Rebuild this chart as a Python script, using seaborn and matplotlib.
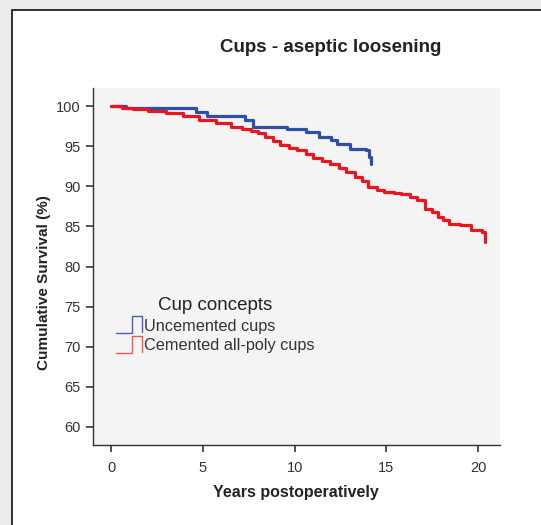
import numpy as np
import pandas as pd
import seaborn as sns
import matplotlib
matplotlib.use("Agg")
import matplotlib.pyplot as plt
from matplotlib.lines import Line2D
from matplotlib.patches import Rectangle
from matplotlib.legend_handler import HandlerBase

# survival curves (years, cumulative survival %)
uncem_t = [0, 0.8, 4.6, 5.2, 7.3, 7.7, 9.6, 10.6, 11.3, 12.0, 12.3, 13.0, 13.9, 14.05, 14.15]
uncem_s = [100, 99.7, 99.2, 98.7, 98.2, 97.4, 97.1, 96.8, 96.2, 95.75, 95.25, 94.7, 94.5, 93.6, 92.8]

cem_t = [0, 0.6, 1.2, 2.0, 3.0, 3.9, 4.8, 5.7, 6.5, 7.1, 7.6, 8.0, 8.4, 8.8, 9.2, 9.7,
         10.1, 10.6, 11.0, 11.5, 11.9, 12.4, 12.8, 13.3, 13.7, 14.0, 14.5, 14.9, 15.4, 15.8,
         16.3, 16.7, 17.1, 17.5, 17.8, 18.1, 18.4, 19.0, 19.6, 20.2, 20.4]
cem_s = [100, 99.8, 99.6, 99.4, 99.1, 98.7, 98.3, 97.9, 97.4, 97.2, 96.9, 96.6, 96.2, 95.7,
         95.1, 94.8, 94.5, 94.0, 93.5, 93.1, 92.8, 92.3, 91.8, 91.2, 90.6, 89.9, 89.5, 89.3,
         89.15, 89.0, 88.7, 88.25, 87.2, 86.8, 86.2, 85.8, 85.3, 85.2, 84.5, 84.3, 83.0]

groups = ["Uncemented cups", "Cemented all-poly cups"]
colors = ["#2f4ea6", "#e8161e"]
legend_colors = ["#4a5cc4", "#f05a4c"]

df = pd.concat([
    pd.DataFrame({"years": uncem_t, "surv": uncem_s, "cup": groups[0]}),
    pd.DataFrame({"years": cem_t, "surv": cem_s, "cup": groups[1]}),
])

sns.set_style("white")
plt.rcParams["font.family"] = ["Liberation Sans", "DejaVu Sans"]

fig = plt.figure(figsize=(5.41, 5.25), dpi=100, facecolor="#ebebeb")
fig.patches.append(Rectangle((12 / 541, -0.1), 1.2, 1 - 10 / 525 + 0.1, transform=fig.transFigure,
                             facecolor="white", edgecolor="#222222", lw=1.3, zorder=-5))
ax = fig.add_axes([93 / 541, 1 - 445 / 525, 407 / 541, 357 / 525])
ax.set_facecolor("#f4f4f4")

sns.lineplot(data=df, x="years", y="surv", hue="cup", palette=dict(zip(groups, colors)),
             drawstyle="steps-post", lw=2.3, legend=False, ax=ax, estimator=None, sort=False)

ax.set_xlim(-1.0, 21.2)
ax.set_ylim(57.75, 102.25)
ax.set_xticks([0, 5, 10, 15, 20])
ax.set_yticks(range(60, 101, 5))
for s in ["top", "right"]:
    ax.spines[s].set_visible(False)
for s in ["left", "bottom"]:
    ax.spines[s].set_color("#333333")
    ax.spines[s].set_linewidth(1.0)
ax.tick_params(axis="both", direction="out", length=5, width=1.2, color="#333333",
               labelsize=10.5, labelcolor="#333333", bottom=True, left=True)
ax.tick_params(axis="x", pad=6.5)
ax.tick_params(axis="y", pad=4)

ax.set_xlabel("Years postoperatively", fontsize=11.5, fontweight="bold", color="#222222")
ax.set_ylabel("Cumulative Survival (%)", fontsize=11, fontweight="bold", color="#222222")
ax.xaxis.set_label_coords(0.499, -0.113)
ax.yaxis.set_label_coords(-0.103, 0.454)

fig.text(331 / 541, 1 - 47 / 525, "Cups - aseptic loosening", ha="center", va="center",
         fontsize=13.5, fontweight="bold", color="#222222")


class StepHandler(HandlerBase):
    def create_artists(self, legend, orig_handle, xdescent, ydescent, width, height, fontsize, trans):
        xs = np.array([0, 0.62, 0.62, 1.0, 1.0]) * width - xdescent
        ys = np.array([-0.25, -0.25, 1.3, 1.3, -0.1]) * height - ydescent
        ln = Line2D(xs, ys, color=orig_handle.get_color(), lw=1.0, transform=trans)
        return [ln]


handles = [Line2D([], [], color=c) for c in legend_colors]
leg = ax.legend(handles, groups, title="Cup concepts", loc="upper left",
                bbox_to_anchor=(0.025, 0.452), frameon=False, fontsize=11.7,
                title_fontsize=13.5, handlelength=1.6, handletextpad=0.1,
                labelspacing=0.3, borderpad=0.3, handler_map={Line2D: StepHandler()})
for t in leg.get_texts():
    t.set_color("#333333")
leg.get_title().set_color("#222222")

fig.savefig("out.png", dpi=100, facecolor=fig.get_facecolor())
